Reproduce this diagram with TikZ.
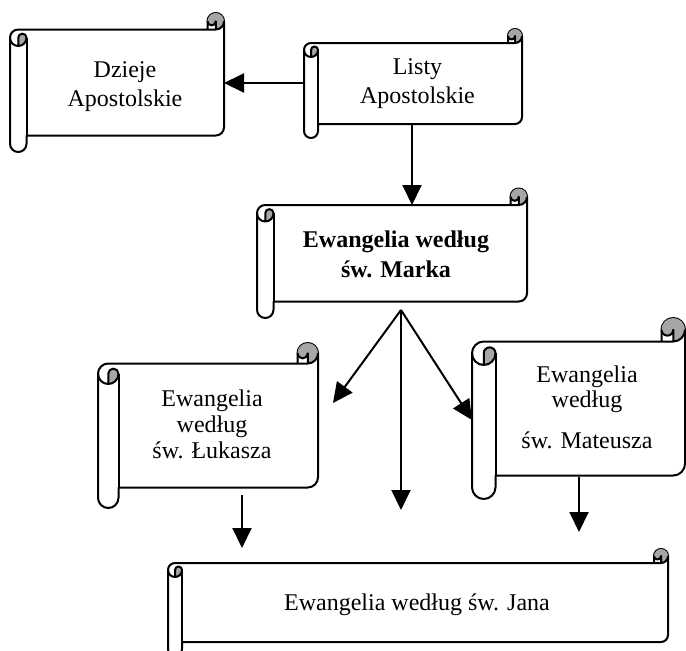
\documentclass[tikz,border=0pt]{standalone}
\usepackage{fontspec}
\setmainfont{Liberation Serif}
\usetikzlibrary{arrows.meta}
\newcommand{\lstr}{\rule[-7pt]{0pt}{24pt}}
\newcommand{\scrollshape}[5]{%
  \pgfmathsetmacro{\SCl}{#1}%
  \pgfmathsetmacro{\SCr}{#3}%
  \pgfmathsetmacro{\SCh}{#5/2}%
  \pgfmathsetmacro{\SCq}{#5/4}%
  \pgfmathsetmacro{\SCxa}{#1+#5/2}%
  \pgfmathsetmacro{\SCxb}{#1+#5}%
  \pgfmathsetmacro{\SCxc}{#3-#5}%
  \pgfmathsetmacro{\SCxd}{#3-#5/2}%
  \pgfmathsetmacro{\SCya}{#2+#5/2}%
  \pgfmathsetmacro{\SCyb}{#2+#5}%
  \pgfmathsetmacro{\SCyc}{#2+1.5*#5}%
  \pgfmathsetmacro{\SCyd}{#2+2*#5}%
  \pgfmathsetmacro{\SCye}{#4-1.5*#5}%
  \pgfmathsetmacro{\SCyf}{#4-#5}%
  \pgfmathsetmacro{\SCyg}{#4-#5/2}%
  \filldraw[scrollline, fill=white] (\SCl,\SCyc) arc[start angle=180,end angle=270,radius=\SCh]
    -- (\SCxc,\SCyb) -- (\SCxc,\SCya) arc[start angle=180,end angle=360,radius=\SCh]
    -- (\SCr,\SCye) arc[start angle=0,end angle=90,radius=\SCh]
    -- (\SCxb,\SCyf) -- (\SCxb,\SCyg) arc[start angle=0,end angle=180,radius=\SCh] -- cycle;
  \fill[curlfill] (\SCxa,\SCyd) arc[start angle=90,end angle=0,radius=\SCh]
    arc[start angle=0,end angle=-180,radius=\SCq] -- cycle;
  \fill[curlfill] (\SCxd,\SCyb) arc[start angle=90,end angle=-180,radius=\SCh]
    arc[start angle=180,end angle=0,radius=\SCq] -- cycle;
  \draw[scrollline] (\SCxc,\SCyb) -- (\SCxd,\SCyb) arc[start angle=90,end angle=0,radius=\SCh];
  \draw[scrollline] (\SCxd,\SCyb) -- (\SCxd,\SCya) arc[start angle=0,end angle=180,radius=\SCq];
  \draw[scrollline] (\SCxa,\SCyd) -- (\SCxa,\SCyc) arc[start angle=180,end angle=360,radius=\SCq]
    arc[start angle=0,end angle=180,radius=\SCh];
  \draw[scrollline] (\SCxb,\SCyc) -- (\SCxb,\SCyf);
}
\tikzset{
  scrollline/.style={line width=2pt, line join=round, draw=black},
  curlfill/.style={fill=gray!70},
  arr/.style={line width=2pt, -{Triangle[length=20pt,width=19pt]}},
  lbl/.style={align=center, inner sep=0pt, font=\fontsize{24}{29}\selectfont},
}
\begin{document}
\begin{tikzpicture}[x=1pt,y=1pt,yscale=-1]
\useasboundingbox (0,0) rectangle (686,651);
\fill[white] (0,0) rectangle (686,651);
% scrolls
\scrollshape{10}{13}{224}{152}{16.5}
\scrollshape{304}{29}{522}{138}{14}
\scrollshape{257}{188.5}{527}{318}{16.5}
\scrollshape{98}{343}{318}{508}{20.5}
\scrollshape{472}{318}{685}{499}{23.5}
\scrollshape{168}{549}{668}{656}{14}
% labels
\node[lbl] (dzieje) at (125,86.5) {\lstr Dzieje\\\lstr Apostolskie};
\node[lbl] (listy) at (417.5,84) {\lstr Listy\\\lstr Apostolskie};
\node[lbl, font=\fontsize{24}{30}\selectfont\bfseries] (marka) at (396,257) {\lstr Ewangelia według\\\lstr św. Marka};
\node[lbl, font=\fontsize{24}{26}\selectfont] (lukasz) at (212,427) {\lstr Ewangelia\\\lstr według\\\lstr św. Łukasza};
\node[lbl, font=\fontsize{24}{25}\selectfont] (mateusz) at (587,410) {\lstr Ewangelia\\\lstr według\\[16pt]\lstr św. Mateusza};
\node[lbl] (jana) at (417,605) {\lstr Ewangelia według św. Jana};
% connector anchors
\coordinate (listyW) at (304,83);
\coordinate (dziejeE) at (224,83);
\coordinate (listyS) at (412,124);
\coordinate (markaN) at (412,205);
\coordinate (split) at (401,310);
\coordinate (lukaszTip) at (333,403);
\coordinate (midTip) at (401,510);
\coordinate (mateuszW) at (472,420);
\coordinate (lukaszS) at (242,495);
\coordinate (lukaszOut) at (242,548);
\coordinate (mateuszS) at (579,477);
\coordinate (mateuszOut) at (579,532);
% arrows
\draw[arr] (listyW) -- (dziejeE);
\draw[arr] (listyS) -- (markaN);
\draw[arr] (split) -- (lukaszTip);
\draw[arr] (split) -- (midTip);
\draw[arr] (split) -- (mateuszW);
\draw[arr] (lukaszS) -- (lukaszOut);
\draw[arr] (mateuszS) -- (mateuszOut);
\end{tikzpicture}
\end{document}
